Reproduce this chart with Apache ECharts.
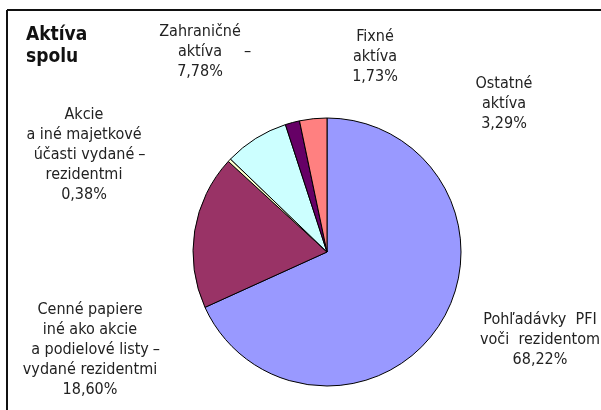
<!DOCTYPE html>
<html>
<head>
<meta charset="utf-8">
<script src="https://cdn.jsdelivr.net/npm/echarts@6/dist/echarts.min.js"></script>
<style>
  html, body { margin: 0; padding: 0; background: #fff; }
  #chart { width: 601px; height: 410px; }
</style>
</head>
<body>
<div id="chart"></div>
<script>
// --- Podiel na aktívach spolu (%) ---
const names = [
    "Pohľadávky PFI voči rezidentom",
    "Cenné papiere iné ako akcie a podielové listy vydané rezidentmi",
    "Akcie a iné majetkové účasti vydané rezidentmi",
    "Zahraničné aktíva",
    "Fixné aktíva",
    "Ostatné aktíva"
];
const values = [68.22, 18.60, 0.38, 7.78, 1.73, 3.29];
const colors = ["#9999ff", "#993366", "#ffffcc", "#ccffff", "#660066", "#ff8080"];

// riadky popisov (bez percent)
const labelRows = [
    ["Pohľadávky  PFI", "voči  rezidentom"],
    ["Cenné papiere", "iné ako akcie", "{g|–}a podielové listy{d|–}", "vydané rezidentmi"],
    ["Akcie", "a iné majetkové", "{g|–}účasti vydané{d|–}", "rezidentmi"],
    ["Zahraničné", "{gw|–}aktíva{dw|–}"],
    ["Fixné", "aktíva"],
    ["Ostatné", "aktíva"]
];

// stred bloku popisu
const labelPos = [[540, 340], [90, 350], [84, 155], [200, 52], [375, 57], [504, 104]];

const font = '"Liberation Sans Narrow", "DejaVu Sans Condensed", "Roboto", sans-serif';

function pct(v) {
    return v.toFixed(2).replace(".", ",") + "%";
}

var myChart = echarts.init(document.getElementById("chart"));

myChart.setOption({
    animation: false,
    title: {
        text: "Aktíva\nspolu",
        left: 21,
        top: 19,
        textStyle: {
            fontFamily: font,
            fontWeight: "bold",
            fontSize: 19,
            lineHeight: 22,
            color: "#111"
        }
    },
    graphic: [
        { type: "line", shape: { x1: 7, y1: 10, x2: 601, y2: 10 }, style: { stroke: "#111", lineWidth: 2 } },
        { type: "line", shape: { x1: 7, y1: 10, x2: 7, y2: 410 }, style: { stroke: "#111", lineWidth: 2 } }
    ],
    series: [
        {
            type: "pie",
            center: [327, 252],
            radius: 134,
            startAngle: 90,
            clockwise: true,
            silent: true,
            itemStyle: { borderColor: "#000", borderWidth: 1 },
            label: {
                show: true,
                fontFamily: font,
                fontSize: 16,
                lineHeight: 20,
                color: "#222",
                align: "center",
                overflow: "none",
                bleedMargin: 0,
                formatter: (p) => labelRows[p.dataIndex].join("\n") + "\n" + pct(p.value),
                rich: {
                    d: { fontFamily: font, fontSize: 16, lineHeight: 20, color: "#222", padding: [0, 0, 0, 4] },
                    g: { fontFamily: font, fontSize: 16, lineHeight: 20, color: "rgba(0,0,0,0)", padding: [0, 4, 0, 0] },
                    dw: { fontFamily: font, fontSize: 16, lineHeight: 20, color: "#222", padding: [0, 0, 0, 22] },
                    gw: { fontFamily: font, fontSize: 16, lineHeight: 20, color: "rgba(0,0,0,0)", padding: [0, 22, 0, 0] }
                }
            },
            labelLine: { show: false },
            labelLayout: (p) => ({
                x: labelPos[p.dataIndex][0],
                y: labelPos[p.dataIndex][1],
                align: "center",
                verticalAlign: "middle"
            }),
            data: names.map((n, i) => ({ name: n, value: values[i], itemStyle: { color: colors[i] } }))
        }
    ]
});
</script>
</body>
</html>
